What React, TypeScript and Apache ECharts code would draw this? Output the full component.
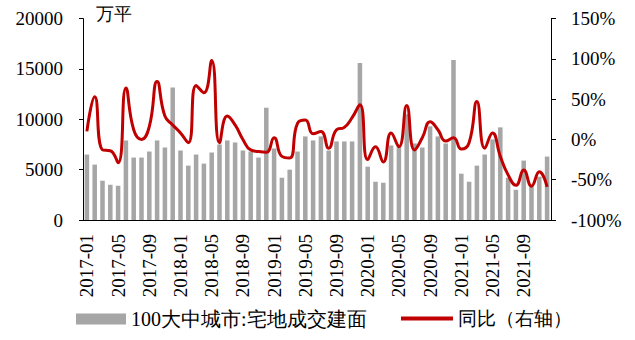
import React, { useEffect, useRef } from "react";
import * as echarts from "echarts";

const months = [
  "2017-01", "2017-02", "2017-03", "2017-04", "2017-05", "2017-06", "2017-07", "2017-08", "2017-09", "2017-10", "2017-11", "2017-12",
  "2018-01", "2018-02", "2018-03", "2018-04", "2018-05", "2018-06", "2018-07", "2018-08", "2018-09", "2018-10", "2018-11", "2018-12",
  "2019-01", "2019-02", "2019-03", "2019-04", "2019-05", "2019-06", "2019-07", "2019-08", "2019-09", "2019-10", "2019-11", "2019-12",
  "2020-01", "2020-02", "2020-03", "2020-04", "2020-05", "2020-06", "2020-07", "2020-08", "2020-09", "2020-10", "2020-11", "2020-12",
  "2021-01", "2021-02", "2021-03", "2021-04", "2021-05", "2021-06", "2021-07", "2021-08", "2021-09", "2021-10", "2021-11", "2021-12",
];

// 100大中城市:宅地成交建面 (万平)
const landArea = [
  6500, 5500, 3900, 3500, 3400, 7900, 6200, 6200, 6800, 7900, 7200, 13150,
  6900, 5400, 6500, 5600, 6700, 7500, 7900, 7700, 6900, 6800, 6200, 11150,
  7100, 4200, 5000, 6800, 8300, 7900, 8300, 6900, 7800, 7800, 7800, 15600,
  5300, 3800, 3700, 7400, 7400, 10500, 7600, 7200, 9300, 8300, 7600, 15900,
  4600, 3800, 5400, 6500, 8000, 9200, 4200, 3000, 5900, 3500, 4300, 6300,
];

// 同比 (%)
const yoy = [
  10, 53, -13, -14, -29, 64, 12, 0, 16, 72, 29, 18,
  8, -4, 67, 58, 98, -4, 29, 18, 0, -13, -15, -16,
  2, -21, -23, 20, 24, 7, 10, -11, 12, 15, 27, 43,
  -25, -9, -28, 8, -9, 42, -13, 2, 22, 12, -2, 2,
  -12, -4, 47, -11, 8, -21, -44, -57, -38, -58, -40, -59,
];

const leftAxis = { min: 0, max: 20000, interval: 5000 };
const rightAxis = { min: -100, max: 150, interval: 50 };

const barName = "100大中城市:宅地成交建面";
const lineName = "同比（右轴）";
const unitLabel = "万平";

const SERIF = "Liberation Serif, serif";

export default function App() {
  const ref = useRef<HTMLDivElement>(null);
  useEffect(() => {
    if (!ref.current) return;
    const chart = echarts.init(ref.current, null, { renderer: "svg" });
    const axisText = { fontSize: 19, color: "#000", fontFamily: SERIF };
    chart.setOption({
      animation: false,
      backgroundColor: "#fff",
      grid: { left: 83, right: 84, top: 18.6, bottom: 120 },
      xAxis: {
        type: "category",
        data: months,
        boundaryGap: true,
        axisLine: { lineStyle: { color: "#000", width: 1 } },
        axisTick: { interval: 3, length: 6, lineStyle: { color: "#000" } },
        axisLabel: { ...axisText, interval: 3, rotate: 90, margin: 14 },
        splitLine: { show: false },
      },
      yAxis: [
        {
          type: "value",
          ...leftAxis,
          axisLine: { show: true, lineStyle: { color: "#000" } },
          axisTick: { show: true, length: 4, lineStyle: { color: "#000" } },
          axisLabel: { ...axisText, margin: 20, formatter: (v: number) => String(v) },
          splitLine: { show: false },
        },
        {
          type: "value",
          position: "right",
          ...rightAxis,
          axisLine: { show: true, lineStyle: { color: "#000" } },
          axisTick: { show: true, length: 5, lineStyle: { color: "#000" } },
          axisLabel: { ...axisText, margin: 20, formatter: (v: number) => v + "%" },
          splitLine: { show: false },
        },
      ],
      legend: [
        {
          data: [barName],
          left: 71,
          top: 304,
          icon: "rect",
          itemWidth: 50,
          itemHeight: 11,
          itemGap: 0,
          textStyle: { fontSize: 20, color: "#000", fontFamily: SERIF },
        },
        {
          data: [lineName],
          left: 396,
          top: 304,
          icon: "rect",
          itemWidth: 52,
          itemHeight: 4,
          textStyle: { fontSize: 19, color: "#000", fontFamily: SERIF },
        },
      ],
      graphic: [
        {
          type: "text",
          left: 96,
          top: 5,
          style: { text: unitLabel, fontSize: 18, fill: "#000", fontFamily: SERIF },
        },
      ],
      series: [
        {
          name: barName,
          type: "bar",
          data: landArea,
          barWidth: "58%",
          itemStyle: { color: "#A6A6A6" },
        },
        {
          name: lineName,
          type: "line",
          yAxisIndex: 1,
          data: yoy,
          smooth: 0.5,
          symbol: "none",
          lineStyle: { color: "#C00000", width: 3 },
          itemStyle: { color: "#C00000" },
        },
      ],
    });
    return () => chart.dispose();
  }, []);
  return (
    <div
      ref={ref}
      style={{ position: "fixed", left: 0, top: 0, width: 635, height: 340, background: "#fff" }}
    />
  );
}
